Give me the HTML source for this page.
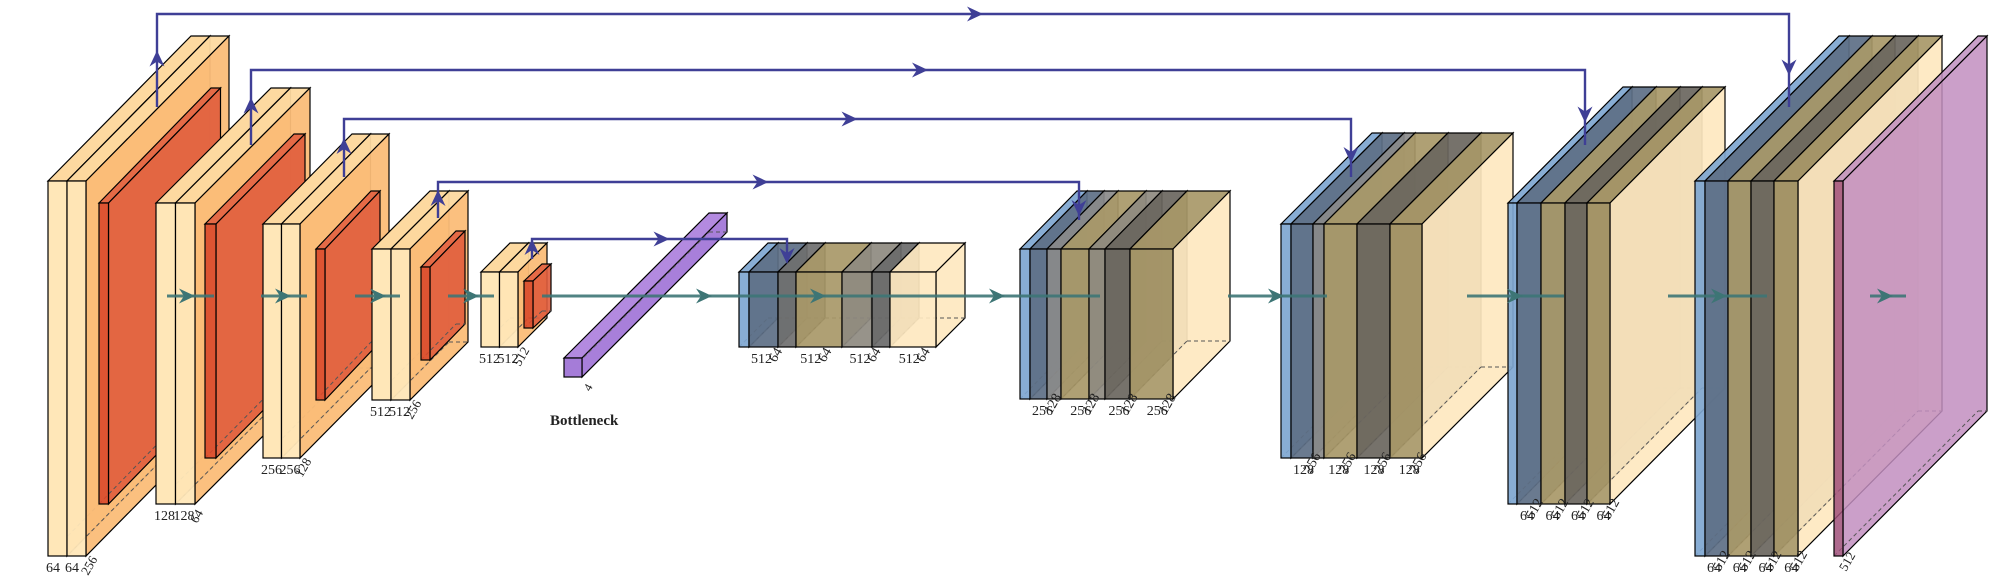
<!DOCTYPE html>
<html><head><meta charset="utf-8"><style>
html,body{margin:0;padding:0;background:#fff;width:2000px;height:581px;overflow:hidden}
svg text{font-family:"Liberation Serif",serif;fill:#222}
</style></head><body>
<svg id="chart" width="2000" height="581" viewBox="0 0 2000 581" xmlns="http://www.w3.org/2000/svg"></svg>
<script>
const encNames=['enc1','enc2','enc3','enc4','enc5'];
const encX=[48,156,263,372,481];
const encTop=[181,203,224,249,272];
const encBot=[556,504,458,400,347];
const encDx=[143,115,89,58,29];
const encDy=[-145,-115,-90,-58,-29];
const encW=[19,19.5,18.5,19,18.5];
const poolX=[99,205,316,421,524];
const poolTop=[203,224,249,267,281];
const poolBot=[504,458,400,360,328];
const poolDx=[112,89,55,35,18];
const poolDy=[-115,-90,-58,-36,-17];
const poolW=[9.5,11,9,9,9];
const encLabels=[['64','64','256'],['128','128','64'],['256','256','128'],['512','512','256'],['512','512','512']];

const decNames=['dec1','dec2','dec3','dec4','dec5'];
const decX=[739,1020,1281,1508,1695];
const decTop=[272,249,224,203,181];
const decBot=[347,399,458,504,556];
const decDx=[29,57,91,115,144];
const decDy=[-29,-58,-91,-116,-145];
const decSegW=[[10,29,18,46,30,18,46],[10,17,14,28,16,25,43],[10,22,11,33,33,32],[9,24,24,22,23],[10,23,23,23,24]];
const decSegC=[['#7ea6d0','#5d6f86','#6f6f6f','#a89868','#8e8a80','#6a6a6a','#fee8c0'],
 ['#7ea6d0','#5d6f86','#8a8a8a','#a89868','#8e8a80','#6a665e','#a89868'],
 ['#7ea6d0','#5d6f86','#8a8a8a','#a89868','#6a665e','#a89868'],
 ['#7ea6d0','#5d6f86','#a89868','#6a665e','#a89868'],
 ['#7ea6d0','#5d6f86','#a89868','#6a665e','#a89868']];

const skipFromX=[157,251,344,438,532];
const skipFromY=[107,145,177,218,259];
const skipTopY=[14,70,119,182,239];
const skipToX=[1789,1585,1351,1079,787];
const skipToY=[107,145,177,220,259];

const flowSegs=[[167,214],[261,307],[355,400],[448,494],[542,1100],[1228,1327],[1467,1564],[1668,1767],[1870,1906]];
const flowHeads=[185,281,376,469,702,816,995,1274,1513,1717,1883];
const flowY=296;

const svg=document.getElementById('chart');
const NS='http://www.w3.org/2000/svg';
function el(tag,attrs,parent){const e=document.createElementNS(NS,tag);for(const k in attrs)e.setAttribute(k,attrs[k]);(parent||svg).appendChild(e);return e;}
function pts(a){return a.map(p=>p[0].toFixed(1)+','+p[1].toFixed(1)).join(' ');}
function box(g,x,y,w,h,dx,dy,front,top,side,op,name){
  const t=el('polygon',{points:pts([[x,y],[x+dx,y+dy],[x+w+dx,y+dy],[x+w,y]]),fill:top,'fill-opacity':op,stroke:'#000','stroke-width':1.2},g);
  
  
  const s=el('polygon',{points:pts([[x+w,y],[x+w+dx,y+dy],[x+w+dx,y+h+dy],[x+w,y+h]]),fill:side,'fill-opacity':op,stroke:'#000','stroke-width':1.2},g);
  
  
  el('line',{x1:x+dx,y1:y+h+dy,x2:x+w+dx,y2:y+h+dy,stroke:'#555','stroke-width':1,'stroke-dasharray':'4,3'},g);
  el('line',{x1:x,y1:y+h,x2:x+dx,y2:y+h+dy,stroke:'#555','stroke-width':1,'stroke-dasharray':'4,3'},g);
  const f=el('rect',{x:x,y:y,width:w,height:h,fill:front,'fill-opacity':op,stroke:'#000','stroke-width':1.2},g);
  
  
}
function label(txt,x,y,rot,size){
  const t=el('text',{x:x,y:y,'font-size':size||14,transform:rot?`rotate(-60 ${x} ${y})`:''});
  t.textContent=txt;
  
  
}
function arrowHead(x,y,dir,color,size){
  const s=size||9;let p;
  if(dir==='r')p=[[x+s,y],[x-s*0.6,y-s*0.75],[x-s*0.1,y],[x-s*0.6,y+s*0.75]];
  if(dir==='u')p=[[x,y-s],[x-s*0.75,y+s*0.6],[x,y+s*0.1],[x+s*0.75,y+s*0.6]];
  if(dir==='d')p=[[x,y+s],[x-s*0.75,y-s*0.6],[x,y-s*0.1],[x+s*0.75,y-s*0.6]];
  const a=el('polygon',{points:pts(p),fill:color});
  
  
}

encX.forEach((x,i)=>{
  const g=el('g',{});
  
  
  const h=encBot[i]-encTop[i];
  box(g,x,encTop[i],encW[i],h,encDx[i],encDy[i],'#ffe7b8','#fdd9a0','#fcc27c',1,encNames[i]+'-conv1');
  box(g,x+encW[i],encTop[i],encW[i],h,encDx[i],encDy[i],'#ffe7b8','#fdd9a0','#fbbd78',0.95,encNames[i]+'-conv2');
  const pg=el('g',{});
  
  
  box(pg,poolX[i],poolTop[i],poolW[i],poolBot[i]-poolTop[i],poolDx[i],poolDy[i],'#d9482a','#e26040','#e05c3c',0.9,'pool'+(i+1));
  const L=encLabels[i];
  label(L[0],x-2,encBot[i]+16);
  label(L[1],x+encW[i]-2,encBot[i]+16);
  label(L[2],x+2*encW[i]+2,encBot[i]+20,true,13);
});

const bg=el('g',{});


box(bg,564,358,18,19,145,-145,'#a57cd8','#b38ae0','#a87fda',1,'bottleneck');
label('4',590,392,true,12);
const bt=el('text',{x:550,y:425,'font-size':15,'font-weight':'bold'});
bt.textContent='Bottleneck';



decX.forEach((x0,i)=>{
  const g=el('g',{});
  
  
  let x=x0;const h=decBot[i]-decTop[i];
  const n=decSegW[i].length;
  decSegW[i].forEach((w,j)=>{
    const c=decSegC[i][j];
    const side=(j===n-1)?'#fee8c0':c;
    box(g,x,decTop[i],w,h,decDx[i],decDy[i],c,c,side,0.92,decNames[i]+'-layer'+j);
    x+=w;
  });
  const labs=i===0?['512','64','512','64','512','64','512','64']:i===1?['256','128','256','128','256','128','256','128']:i===2?['128','256','128','256','128','256','128','256']:['64','512','64','512','64','512','64','512'];
  const total=x-x0;
  const step=total/labs.length;
  labs.forEach((t,k)=>label(t,x0+12+k*step,decBot[i]+16,k%2===1,14));
});

const fg=el('g',{});


box(fg,1834,181,9,375,144,-145,'#a0507a','#c08fc0','#c28ec0',0.85,'output');
label('512',1846,572,true,13);

skipFromX.forEach((x,i)=>{
  const p=el('polyline',{points:pts([[x,skipFromY[i]],[x,skipTopY[i]],[skipToX[i],skipTopY[i]],[skipToX[i],skipToY[i]]]),fill:'none',stroke:'#3f3f96','stroke-width':2.4});
  
  
  arrowHead(x,(skipFromY[i]+skipTopY[i])/2,'u','#3f3f96',10);
  arrowHead((x+skipToX[i])/2,skipTopY[i],'r','#3f3f96',10);
  arrowHead(skipToX[i],(skipTopY[i]+skipToY[i])/2+5,'d','#3f3f96',10);
});

flowSegs.forEach(s=>{
  const l=el('line',{x1:s[0],y1:flowY,x2:s[1],y2:flowY,stroke:'#3d7575','stroke-width':3,'stroke-opacity':0.9});
  
  
});
flowHeads.forEach(x=>arrowHead(x,flowY,'r','#3d7575',10));
</script>
</body></html>
